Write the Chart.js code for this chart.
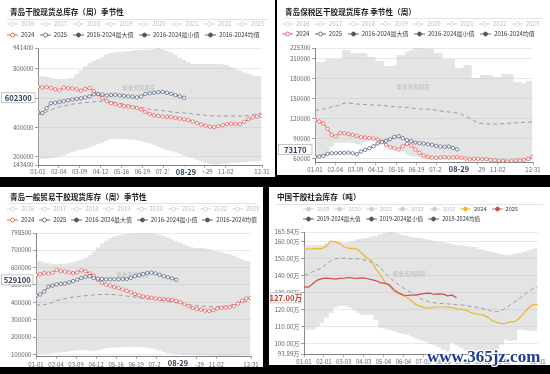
<!DOCTYPE html>
<html><head><meta charset="utf-8">
<script src="https://cdn.jsdelivr.net/npm/chart.js@4.4.1/dist/chart.umd.min.js"></script>
<style>
html,body{margin:0;padding:0;background:#000;width:550px;height:374px;overflow:hidden;font-family:"Noto Sans CJK SC","Noto Sans",sans-serif;}
.panel{position:absolute;background:#fff;overflow:hidden;}
.title{position:absolute;font-weight:bold;font-size:7.6px;color:#1a1a1a;white-space:nowrap;line-height:8px;}
.sep{position:absolute;height:1px;background:#e2e2e2;}
.lg{position:absolute;display:flex;align-items:center;white-space:nowrap;line-height:6px;height:6px;}
.it{display:flex;align-items:center;}
.it svg{margin-right:3px;flex:none;}
canvas{position:absolute;left:0;top:0;}
#wm365{position:absolute;left:427px;top:348px;font:bold 17px "Liberation Serif",serif;line-height:17px;color:#1b3f92;white-space:nowrap;
text-shadow:-1px 0 #fff,1px 0 #fff,0 -1px #fff,0 1px #fff,-1px -1px #fff,1px 1px #fff,-1px 1px #fff,1px -1px #fff;}
</style></head>
<body>
<script>
// ---------- shared axis data ----------
const weekDays = Array.from({length: 53}, (_, i) => i * 7);
const qdTickDays   = [0, 34, 68, 102, 136, 170, 204, 238, 272, 306, 365];
const qdTickLabels = ['01-01','02-04','03-09','04-12','05-16','06-19','07-23','08-26','09-29','11-02','12-31'];
const cnTickDays   = [0, 31, 62, 93, 124, 155, 186, 217, 248, 279, 310, 365];
const cnTickLabels = ['01-01','02-01','03-03','04-03','05-04','06-04','07-05','08-05','09-05','10-06','11-06','12-31'];
const latestDay = 241, latestLabel = '08-29';
const qdHiddenYears = ['2016','2017','2018','2019','2020','2021','2022','2023'];
const cnHiddenYears = ['2019','2020','2021','2022','2023'];

// ---------- chart 1: 青岛干胶现货总库存 ----------
const c1Title = '青岛干胶现货总库存（周）季节性';
const c1YTicks = [143400, 200000, 400000, 600000, 800000, 941400];
const c1Max = [750000,748000,745000,738000,732000,730000,730000,732000,738000,765000,
790000,815000,839000,855000,866000,880000,898000,907000,912000,914000,
916000,920000,925000,928000,928000,928000,930000,935000,941400,935000,
925000,910000,895000,875000,860000,845000,832000,832000,832000,832000,
832000,832000,832000,830000,825000,812000,800000,790000,775000,765000,
755000,750000,750000];
const c1Min = [184000,185000,186000,190000,192000,200000,210000,222000,228000,240000,
248000,255000,265000,275000,285000,295000,310000,320000,322000,321000,
320000,318000,316000,312000,305000,298000,290000,280000,268000,255000,
245000,238000,228000,220000,208000,198000,190000,180000,168000,158000,
150000,143400,145000,150000,152000,156000,158000,160000,163000,166000,
168000,170000,172000];
const c1Mean = [485000,492000,505000,518000,530000,540000,546000,552000,558000,562000,
566000,569000,572000,574000,576000,578000,578000,575000,570000,564000,
558000,552000,546000,540000,534000,530000,524000,520000,517000,514000,
510000,506000,503000,500000,498000,496000,492000,488000,485000,482000,
480000,478000,478000,477000,477000,477000,477000,477000,478000,480000,
485000,492000,498000];
const c1Y2024 = [675000,672000,675000,668000,660000,652000,672000,668000,665000,660000,
650000,662000,668000,645000,625000,600000,578000,565000,558000,550000,
545000,542000,538000,532000,522000,505000,492000,482000,478000,474000,
472000,470000,465000,460000,455000,450000,440000,430000,420000,412000,
405000,402000,408000,415000,422000,425000,423000,422000,438000,455000,
468000,475000,478000];
const c1Y2025 = [505000,498000,530000,565000,568000,573000,578000,585000,590000,594000,
598000,604000,612000,626000,628000,624000,618000,620000,622000,618000,
615000,612000,610000,605000,612000,628000,632000,636000,640000,642000,
636000,628000,620000,612000,602300];

// ---------- chart 2: 青岛保税区干胶现货库存 ----------
const c2Title = '青岛保税区干胶现货库存 季节性（周）';
const c2YTicks = [60000, 90000, 120000, 150000, 180000, 210000, 225300];
const c2Max = [204300,204300,204300,208800,208800,209000,209000,222300,222300,217800,
217800,217800,217800,211800,211800,205800,205800,198300,198300,199000,
214800,214800,220000,222300,225300,225300,224500,224500,224000,217800,
217800,208800,208800,208800,195300,195300,199800,199800,180300,180300,
184800,184800,184800,181800,181800,186300,186300,186300,174300,174300,
172800,175800,175800];
const c2Min = [63000,63000,63000,64000,77000,83000,83000,83000,83000,83000,
81000,80000,84000,86000,87000,87000,84000,80000,76000,74000,
72000,70000,66000,63000,62000,61000,60000,59000,58500,58000,
58000,58000,58000,58000,58000,58000,57500,57000,57000,57000,
56500,56000,55500,55000,55000,54500,54500,55000,55000,55000,
55500,56000,56000];
const c2Mean = [132000,132500,133500,135000,137000,138000,140000,142500,142800,142000,
141300,141000,140500,140000,139800,139500,139000,138500,138000,137500,
137000,136500,136000,135000,134500,134000,133800,133500,133000,132000,
131000,130000,129300,128500,127800,126000,123000,120000,116000,113000,
112000,111500,111300,111300,111500,111800,112000,112500,113000,113500,
113800,114000,114300];
const c2Y2024 = [117000,115000,112000,104000,95000,93000,97500,97500,96500,95000,
93500,91500,91000,90500,89500,88000,85000,80000,76500,75000,
73000,78000,81500,79000,73000,68000,64000,62000,61000,60500,
61000,61500,61000,61000,61500,60500,59500,58500,59000,59000,
58500,58500,57500,57000,56500,56000,55000,55500,57000,56500,
57500,59000,62000];
const c2Y2025 = [62000,62500,63500,66500,67500,67500,68000,68000,68500,67500,
66000,70000,72500,75000,78000,82000,84000,86000,88500,92000,
93000,90000,87000,85500,83500,82500,82000,81000,80000,78500,
77500,77000,77500,75500,73170];

// ---------- chart 3: 青岛一般贸易干胶现货库存 ----------
const c3Title = '青岛一般贸易干胶现货库存（周）季节性';
const c3YTicks = [100000, 200000, 300000, 400000, 500000, 600000, 700000, 798500];
const c3Max = [643000,638000,630000,625000,620000,620000,620000,622000,626000,630000,
637000,645000,655000,672000,690000,715000,738000,755000,768000,778000,
785000,790000,793000,795000,797000,798000,798500,798500,797000,794000,
788000,780000,772000,762000,752000,742000,732000,722000,715000,712000,
712000,710000,705000,698000,694000,688000,682000,676000,668000,658000,
648000,638000,636000];
const c3Min = [103000,103000,104000,106000,108000,110000,112000,114000,117000,120000,
124000,126000,124000,122000,122000,124000,130000,136000,138000,139000,
140000,142000,143000,143000,143000,142000,140000,138000,134000,128000,
122000,114000,108000,104000,102000,100000,99000,98000,97000,97000,
96000,95000,94000,93000,92000,92000,91500,91500,92000,93000,
94000,95000,96000];
const c3Mean = [384000,384000,386000,392000,400000,410000,415000,420000,425000,430000,
433000,436000,438000,440000,442000,444000,445000,446000,445000,444000,
442000,440000,436000,433000,430000,426000,423000,420000,418000,415000,
412000,408000,404000,400000,397000,394000,390000,386000,383000,380000,
378000,377000,375000,374000,374000,375000,378000,382000,388000,395000,
400000,404000,407000];
const c3Y2024 = [557000,562000,568000,566000,570000,586000,580000,576000,572000,568000,
572000,584000,578000,566000,552000,530000,512000,502000,496000,488000,
482000,474000,466000,458000,448000,440000,434000,430000,426000,422000,
419000,418000,416000,414000,408000,400000,390000,378000,368000,362000,
358000,352000,350000,355000,364000,368000,370000,372000,378000,392000,
410000,422000,425000];
const c3Y2025 = [440000,445000,462000,490000,496000,503000,506000,508000,515000,522000,
530000,540000,546000,550000,540000,536000,534000,532000,532000,533000,
532000,534000,534000,540000,550000,556000,562000,568000,570000,566000,
558000,550000,544000,538000,529100];

// ---------- chart 4: 中国干胶社会库存 (万吨) ----------
const c4Title = '中国干胶社会库存（吨）';
const c4YTicks = [93.89, 100, 110, 120, 130, 140, 150, 160, 165.84];
const c4Max = [158.2,158.2,158.2,158.2,158.2,159.4,160.6,160.2,160.0,159.4,
160.0,160.6,161.7,162.0,162.3,163.0,163.5,164.5,165.3,165.84,
165.5,165.0,164.1,163.5,162.9,162.5,162.3,161.7,161.1,160.6,
160.0,160.0,159.4,158.8,158.2,158.0,157.6,157.0,157.0,156.0,
155.3,154.7,154.1,153.5,152.9,152.3,152.5,153.0,153.5,154.0,
155.0,155.8,156.4];
const c4Min = [108.2,108.2,108.2,110.0,112.3,115.2,118.2,121.1,122.3,122.3,
121.5,120.0,118.2,117.0,117.0,117.0,114.1,109.4,108.8,108.2,
107.5,106.4,105.8,105.3,104.0,102.9,102.0,101.1,100.0,99.4,
98.0,96.4,95.3,100.5,99.0,97.6,96.0,94.7,94.3,93.89,
94.0,94.5,95.3,97.0,99.4,102.3,101.5,102.0,108.2,108.0,
107.6,107.6,107.6];
const c4Mean = [140.5,141.2,142.5,143.5,144.5,147.0,149.0,150.0,150.5,150.4,
150.0,150.0,150.0,149.5,149.0,148.0,147.0,145.0,141.7,139.5,
136.8,135.0,133.0,131.5,130.0,128.5,126.5,125.5,124.6,124.1,
123.8,123.6,123.5,123.3,123.0,122.9,122.5,122.0,121.7,121.2,
120.5,120.0,119.0,118.8,119.5,121.0,123.0,124.7,126.5,128.8,
130.5,132.5,133.5];
const c4Y2024 = [155.8,155.8,155.9,156.0,156.0,157.5,160.5,160.0,159.0,157.0,
156.2,156.2,155.5,153.0,150.5,149.0,144.0,140.5,136.5,134.0,
131.0,129.8,128.5,127.2,125.0,123.0,122.0,121.2,121.0,121.5,
121.6,121.6,121.5,121.3,120.5,120.3,119.8,118.5,117.8,117.2,
116.8,115.5,113.5,112.5,111.8,112.0,113.0,113.0,115.0,118.0,
121.0,123.2,123.0];
const c4Y2025 = [133.5,133.3,135.5,137.5,138.3,138.6,138.4,138.0,138.5,138.6,
139.0,138.6,138.5,138.8,138.4,137.8,137.2,136.0,135.5,134.8,
132.0,130.0,128.8,128.4,128.6,128.8,129.2,129.6,129.8,129.0,
129.4,129.2,128.2,128.6,127.0];
</script>

<div id="wm365">www.365jz.com</div>

<script>
Chart.defaults.font.family = '"Noto Sans CJK SC","Noto Sans",sans-serif';

const hiPlugin = {
  id: 'hi',
  beforeDatasetsDraw(chart, args, o) {
    const {ctx, chartArea: a} = chart;
    ctx.save();
    ctx.font = '5.5px "Noto Sans CJK SC"';
    ctx.fillStyle = '#b5b5b5';
    ctx.textAlign = 'center'; ctx.textBaseline = 'middle';
    ctx.fillText('紫金天风期货', a.left + 0.45 * (a.right - a.left), a.top + 0.34 * (a.bottom - a.top));
    ctx.restore();
  },
  afterDraw(chart, args, o) {
    const {ctx, chartArea: a, scales: {x, y}} = chart;
    ctx.save();
    ctx.textAlign = 'center'; ctx.textBaseline = 'middle';
    if (o.yVal != null) {
      const py = y.getPixelForValue(o.yVal);
      const bx = 1.5, bw = a.left - 4.5, bh = 10;
      ctx.fillStyle = '#fff'; ctx.fillRect(bx, py - bh / 2, bw, bh);
      ctx.strokeStyle = '#b0b0b0'; ctx.lineWidth = 0.7; ctx.strokeRect(bx, py - bh / 2, bw, bh);
      ctx.font = 'bold 7.6px "Noto Sans CJK SC"'; ctx.fillStyle = o.yColor;
      ctx.fillText(o.yText, bx + bw / 2, py + 0.5);
    }
    if (o.xVal != null) {
      const px = x.getPixelForValue(o.xVal);
      const bw = 34, bh = 11, by = a.bottom + 1.5;
      ctx.fillStyle = '#fff'; ctx.fillRect(px - bw / 2, by, bw, bh);
      ctx.font = 'bold 7.4px "Noto Sans CJK SC"'; ctx.fillStyle = o.xColor;
      ctx.fillText(o.xText, px, by + bh / 2);
    }
    ctx.restore();
  }
};

function pts(vals) { return vals.map((v, i) => ({x: weekDays[i], y: v})); }

function icon(color, hollow) {
  return `<svg width="11" height="6"><line x1="0" y1="3" x2="11" y2="3" stroke="${color}" stroke-width="0.9"/>` +
         `<circle cx="5.5" cy="3" r="2" fill="${hollow ? '#fff' : color}" stroke="${color}" stroke-width="0.8"/></svg>`;
}

function legendRow(panel, items, left, cy, fs, gap) {
  const d = document.createElement('div');
  d.className = 'lg';
  d.style.left = left + 'px'; d.style.top = (cy - 3) + 'px'; d.style.fontSize = fs + 'px';
  d.innerHTML = items.map(it =>
    `<span class="it" style="margin-right:${gap}px;color:${it.text}">${icon(it.color, it.hollow)}${it.name}</span>`).join('');
  panel.appendChild(d);
}

function build(p) {
  const [L, T, W, H] = p.box;
  const panel = document.createElement('div');
  panel.className = 'panel';
  Object.assign(panel.style, {left: L + 'px', top: T + 'px', width: W + 'px', height: H + 'px'});
  document.body.insertBefore(panel, document.getElementById('wm365'));

  const cv = document.createElement('canvas');
  cv.width = W; cv.height = H; cv.style.width = W + 'px'; cv.style.height = H + 'px';
  panel.appendChild(cv);

  const t = document.createElement('div');
  t.className = 'title'; t.textContent = p.title;
  t.style.left = p.titleX + 'px'; t.style.top = (p.titleY - 4) + 'px';
  panel.appendChild(t);
  const s = document.createElement('div');
  s.className = 'sep'; s.style.left = '7px'; s.style.width = (W - 14) + 'px'; s.style.top = p.sepY + 'px';
  panel.appendChild(s);
  legendRow(panel, p.row1, p.lgX, p.row1Y, p.lgFs, p.lgGap);
  legendRow(panel, p.row2, p.lgX, p.row2Y, p.lgFs, p.lgGap);

  const last = p.s25[p.s25.length - 1];
  new Chart(cv, {
    type: 'line',
    data: {datasets: [
      {label: '2025', data: pts(p.s25), borderColor: p.c25, borderWidth: p.lw,
       pointRadius: p.markers ? 1.7 : 0, pointBackgroundColor: '#fff', pointBorderColor: p.c25, pointBorderWidth: 0.7},
      {label: '2024', data: pts(p.s24), borderColor: p.c24, borderWidth: p.lw,
       pointRadius: p.markers ? 1.7 : 0, pointBackgroundColor: '#fff', pointBorderColor: p.c24, pointBorderWidth: 0.7},
      {label: p.names[2], data: pts(p.mean), borderColor: '#9b9b9b', borderWidth: 1, borderDash: [4, 3], pointRadius: 0},
      {label: p.names[0], data: pts(p.max), borderWidth: 0, borderColor: 'rgba(0,0,0,0)', pointRadius: 0,
       stepped: 'middle', fill: '+1', backgroundColor: 'rgba(190,190,190,0.42)'},
      {label: p.names[1], data: pts(p.min), borderWidth: 0, borderColor: 'rgba(0,0,0,0)', pointRadius: 0,
       stepped: 'middle', fill: false}
    ]},
    options: {
      responsive: false, animation: false, devicePixelRatio: 1,
      layout: {padding: {left: 0, right: p.padR, top: p.top, bottom: 0}},
      plugins: {
        legend: {display: false}, tooltip: {enabled: false},
        hi: {yVal: last, yText: p.yFmt(last), yColor: p.hiColor,
             xVal: p.showX ? latestDay : null, xText: latestLabel, xColor: '#2e3f56'}
      },
      scales: {
        x: {
          type: 'linear', min: 0, max: 365,
          afterBuildTicks: sc => { sc.ticks = p.xTicks.map(v => ({value: v})); },
          afterFit: sc => { sc.height = p.xh; },
          ticks: {autoSkip: false, maxRotation: 0, font: {size: 6}, color: '#666', padding: p.xPad,
                  callback: (v, i) => p.xLabels[i]},
          grid: {drawOnChartArea: false, tickLength: 3, color: '#777', lineWidth: 0.6},
          border: {color: '#666', width: 0.8}
        },
        y: {
          min: p.ymin, max: p.ymax,
          afterBuildTicks: sc => { sc.ticks = p.yTicks.map(v => ({value: v})); },
          afterFit: sc => { sc.width = p.yw; },
          ticks: {font: {size: 6.2}, color: '#666', padding: 1.5, callback: v => p.yFmt(v)},
          grid: {color: '#e0e0e0', lineWidth: 0.7, tickLength: 3, tickColor: '#777'},
          border: {color: '#666', width: 0.8}
        }
      }
    },
    plugins: [hiPlugin]
  });
}

const RED = '#e5504a', NAVY = '#46597a', DIM = '#cfcfcf', DIMT = '#bdbdbd', DARK = '#555';
function qdRows(range) {
  return [
    qdHiddenYears.map(y => ({name: y, color: DIM, hollow: true, text: DIMT})),
    [{name: '2024', color: RED, hollow: true, text: '#333'},
     {name: '2025', color: NAVY, hollow: true, text: '#333'},
     {name: range + '最大值', color: DARK, hollow: false, text: '#333'},
     {name: range + '最小值', color: DARK, hollow: false, text: '#333'},
     {name: range + '均值', color: DARK, hollow: false, text: '#333'}]
  ];
}
const numFmt = v => String(v);
const qdNames = ['2016-2024最大值', '2016-2024最小值', '2016-2024均值'];

const r1 = qdRows('2016-2024');
build({box: [0, 0, 275, 177], title: c1Title, titleX: 10, titleY: 12, sepY: 19,
  row1: r1[0], row2: r1[1], lgX: 7, row1Y: 24, row2Y: 35, lgFs: 6, lgGap: 5.5,
  yw: 38, padR: 13, top: 48, xh: 12, xPad: 0,
  ymin: 143400, ymax: 941400, yTicks: c1YTicks, yFmt: numFmt, xTicks: qdTickDays, xLabels: qdTickLabels,
  max: c1Max, min: c1Min, mean: c1Mean, s24: c1Y2024, s25: c1Y2025, names: qdNames,
  c24: RED, c25: NAVY, lw: 0.9, markers: true, hiColor: '#2e3f56', showX: true});

build({box: [277, 0, 273, 175], title: c2Title, titleX: 8, titleY: 12, sepY: 18,
  row1: r1[0], row2: r1[1], lgX: 5, row1Y: 24, row2Y: 34, lgFs: 6, lgGap: 5.5,
  yw: 38, padR: 17, top: 48, xh: 13, xPad: 1,
  ymin: 54300, ymax: 225300, yTicks: c2YTicks, yFmt: numFmt, xTicks: qdTickDays, xLabels: qdTickLabels,
  max: c2Max, min: c2Min, mean: c2Mean, s24: c2Y2024, s25: c2Y2025, names: qdNames,
  c24: RED, c25: NAVY, lw: 0.9, markers: true, hiColor: '#2e3f56', showX: true});

build({box: [0, 187, 263, 180], title: c3Title, titleX: 10, titleY: 10, sepY: 16,
  row1: r1[0], row2: r1[1], lgX: 7, row1Y: 22, row2Y: 33, lgFs: 6, lgGap: 4.8,
  yw: 36, padR: 12, top: 46, xh: 11, xPad: 2,
  ymin: 91200, ymax: 798500, yTicks: c3YTicks, yFmt: numFmt, xTicks: qdTickDays, xLabels: qdTickLabels,
  max: c3Max, min: c3Min, mean: c3Mean, s24: c3Y2024, s25: c3Y2025, names: qdNames,
  c24: RED, c25: NAVY, lw: 0.9, markers: true, hiColor: '#2e3f56', showX: true});

const GOLD = '#f2b52a', CRED = '#c9504e';
const c4Row1 = cnHiddenYears.map(y => ({name: y, color: DIM, hollow: false, text: DIMT}))
  .concat([{name: '2024', color: GOLD, hollow: false, text: '#333'}, {name: '2025', color: CRED, hollow: false, text: '#333'}]);
const c4Names = ['2019-2024最大值', '2019-2024最小值', '2019-2024均值'];
const c4Row2 = c4Names.map(n => ({name: n, color: DARK, hollow: false, text: '#333'}));
build({box: [269, 187, 281, 178], title: c4Title, titleX: 8, titleY: 10, sepY: 17,
  row1: c4Row1, row2: c4Row2, lgX: 34, row1Y: 22, row2Y: 32, lgFs: 5.6, lgGap: 5,
  yw: 35, padR: 12, top: 45, xh: 11, xPad: 1,
  ymin: 93.89, ymax: 165.84, yTicks: c4YTicks, yFmt: v => v.toFixed(2) + '万', xTicks: cnTickDays, xLabels: cnTickLabels,
  max: c4Max, min: c4Min, mean: c4Mean, s24: c4Y2024, s25: c4Y2025, names: c4Names,
  c24: GOLD, c25: CRED, lw: 1.2, markers: false, hiColor: '#c0392b', showX: false});
</script>
</body></html>
